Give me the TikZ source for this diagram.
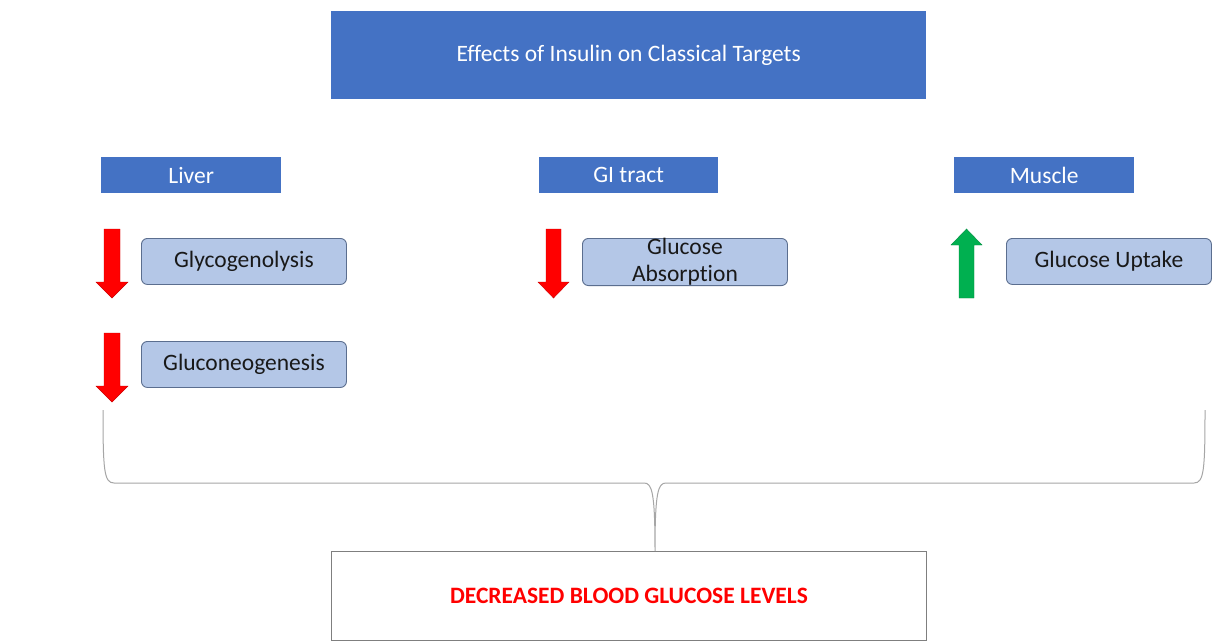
\documentclass[tikz,border=0pt]{standalone}
\usepackage{fontspec}
\setmainfont{Carlito}[Ligatures={NoCommon}]
\begin{document}
\begin{tikzpicture}[x=1pt,y=-1pt,
  hdr/.style={draw=none,fill=hdrblue,text=white,inner sep=0pt,anchor=north west,font=\fontsize{23.5}{26}\selectfont},
  item/.style={draw=itemborder,line width=0.9pt,fill=itemfill,rounded corners=6pt,minimum width=205pt,minimum height=46pt,inner sep=0pt,anchor=north west,font=\fontsize{23.5}{26}\selectfont,align=center,text=black!90},
  downarr/.style={fill=arrred,draw=arrred!80!black,line width=0.4pt},
  uparr/.style={fill=arrgreen,draw=arrgreen!80!black,line width=0.4pt},
  brace/.style={draw=braceg,line width=1pt}]
\definecolor{hdrblue}{HTML}{4472C4}
\definecolor{itemfill}{HTML}{B4C7E7}
\definecolor{itemborder}{HTML}{5B6E8F}
\definecolor{arrred}{HTML}{FF0000}
\definecolor{arrgreen}{HTML}{00B050}
\definecolor{braceg}{HTML}{A6A6A6}
\definecolor{boxg}{HTML}{7F7F7F}
\useasboundingbox (0,0) rectangle (1227,641);
\fill[white] (0,0) rectangle (1227,641);
% title
\node[hdr,minimum width=595pt,minimum height=88pt] (title) at (331,11) {Effects of Insulin on Classical Targets};
% headers
\node[hdr,minimum width=180pt,minimum height=36pt] (liver) at (101,157) {Liver};
\node[hdr,minimum width=179pt,minimum height=36pt] (gi) at (539,157) {GI tract};
\node[hdr,minimum width=180pt,minimum height=36pt] (muscle) at (954,157) {Muscle};
% items
\node[item] (glyco) at (141,238) {Glycogenolysis};
\node[item] (gluco) at (141,341) {Gluconeogenesis};
\node[item,font=\fontsize{23.5}{27}\selectfont] (absorb) at (582,238) {Glucose\\Absorption};
\node[item] (uptake) at (1006,238) {Glucose Uptake};
% arrows
\draw[downarr] (104,229) -- (120,229) -- (120,282) -- (128,282) -- (112,298) -- (96,282) -- (104,282) -- cycle;
\draw[downarr] (104,333) -- (120,333) -- (120,386) -- (128,386) -- (112,402) -- (96,386) -- (104,386) -- cycle;
\draw[downarr] (546,229) -- (561,229) -- (561,282) -- (569,282) -- (553.5,298) -- (538,282) -- (546,282) -- cycle;
\draw[uparr] (959,298) -- (974,298) -- (974,245) -- (982,245) -- (966.5,229) -- (951,245) -- (959,245) -- cycle;
% result box
\node[draw=boxg,line width=1pt,fill=white,minimum width=595pt,minimum height=89pt,inner sep=0pt,anchor=north west,text=arrred,font=\fontsize{23.5}{26}\selectfont\bfseries] (result) at (331,551) {DECREASED BLOOD GLUCOSE LEVELS};
% brace
\coordinate (bl) at (103,410);
\coordinate (br) at (1205,410);
\coordinate (cusp) at (655,551);
\draw[brace] (bl) .. controls (103,470) and (104,483) .. (114,483) -- (644,483)
  .. controls (652,483) and (655,492) .. (cusp)
  .. controls (655,492) and (658,483) .. (666,483) -- (1194,483)
  .. controls (1204,483) and (1205,470) .. (br);
\end{tikzpicture}
\end{document}
